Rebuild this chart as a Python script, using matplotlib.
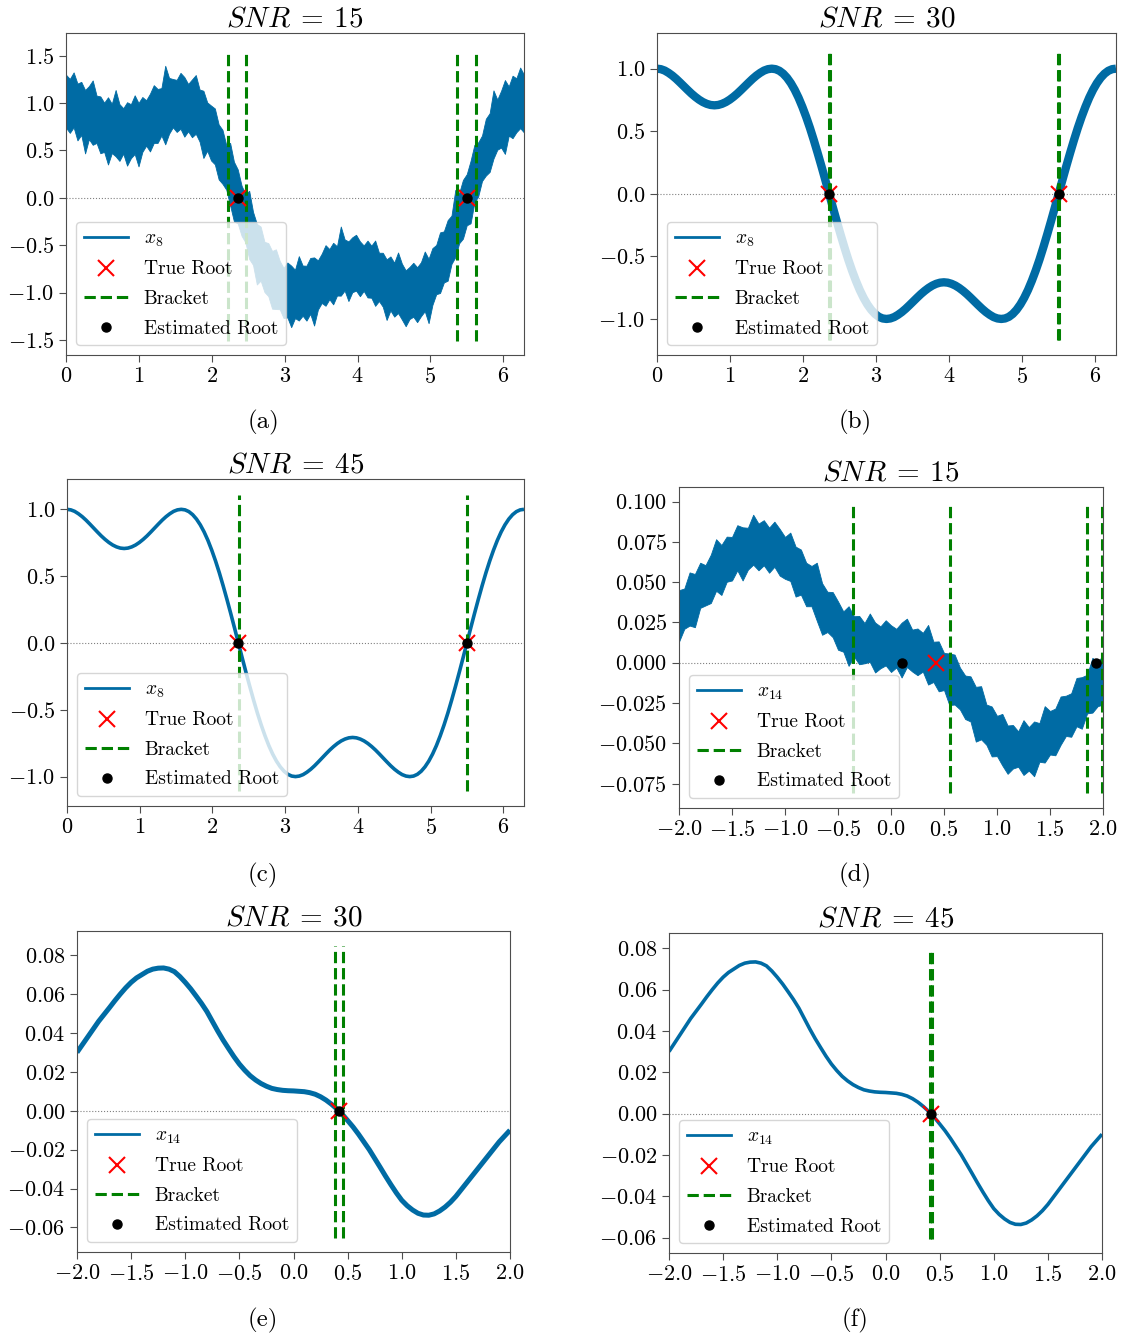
import numpy as np
import matplotlib
matplotlib.use('Agg')
import matplotlib.pyplot as plt
from matplotlib.lines import Line2D

plt.rcParams['font.family'] = 'serif'
plt.rcParams['font.serif'] = ['cmr10']
plt.rcParams['mathtext.fontset'] = 'cm'
plt.rcParams['axes.formatter.use_mathtext'] = True

# x8 read every 3 degrees on [0, 2pi]
x8_grid = np.linspace(0, 2 * np.pi, 121)
x8 = [1.0, .996, .985, .967, .945, .919, .890, .860, .830, .801, .775, .752, .733, .719,
      .710, .707, .710, .719, .733, .752, .775, .801, .830, .860, .890, .919, .945, .967,
      .985, .996, 1.0, .996, .983, .960, .927, .884, .831, .768, .695, .614, .525, .428,
      .326, .220, .111, 0.0, -.111, -.220, -.326, -.428, -.525, -.614, -.695, -.768,
      -.831, -.884, -.927, -.960, -.983, -.996, -1.0,
      -.996, -.985, -.967, -.945, -.919, -.890, -.860, -.830, -.801, -.775, -.752, -.733,
      -.719, -.710, -.707, -.710, -.719, -.733, -.752, -.775, -.801, -.830, -.860, -.890,
      -.919, -.945, -.967, -.985, -.996, -1.0, -.996, -.983, -.960, -.927, -.884, -.831,
      -.768, -.695, -.614, -.525, -.428, -.326, -.220, -.111, 0.0, .111, .220, .326, .428,
      .525, .614, .695, .768, .831, .884, .927, .960, .983, .996, 1.0]
# noise envelope at SNR = 15 (distance above / below the curve)
x8_up = [.30, .26, .34, .24, .28, .22, .29, .38, .25, .27, .23, .31, .26, .42, .28, .24, .30, .27, .35, .25,
         .29, .23, .27, .33, .26, .24, .45, .30, .27, .25, .32, .28, .22, .29, .37, .26, .30, .24, .28, .33,
         .25, .29, .23, .36, .27, .30, .24, .26, .40, .28, .25, .31, .23, .29, .27, .34, .26, .22, .30, .28,
         .24, .38, .27, .25, .31, .29, .23, .27, .33, .26, .30, .24, .43, .28, .25, .29, .32, .26, .23, .30,
         .27, .35, .25, .28, .24, .30, .26, .39, .29, .23, .27, .31, .25, .28, .36, .24, .30, .27, .33, .26,
         .29, .24, .41, .27, .30, .25, .28, .34, .26, .23, .31, .28, .44, .27, .30, .36, .25, .33, .28, .38, .30]
x8_dn = [.26, .31, .24, .36, .28, .45, .27, .30, .25, .33, .29, .40, .26, .28, .32, .24, .37, .30, .27, .42,
         .29, .25, .34, .28, .31, .26, .38, .29, .24, .30, .27, .35, .28, .32, .25, .29, .41, .27, .30, .26,
         .33, .28, .24, .30, .36, .27, .29, .25, .32, .28, .39, .26, .30, .27, .34, .29, .25, .31, .28, .37,
         .27, .30, .26, .33, .28, .43, .29, .25, .31, .27, .35, .28, .30, .26, .38, .29, .27, .32, .25, .30,
         .28, .34, .26, .29, .40, .27, .31, .25, .30, .36, .28, .26, .33, .29, .27, .44, .30, .25, .31, .28,
         .35, .27, .30, .26, .32, .29, .38, .27, .31, .25, .29, .34, .28, .26, .30, .42, .27, .33, .29, .26, .31]

# x14 read every 0.05 on [-2, 2]
x14_grid = np.linspace(-2, 2, 81)
x14 = [.030, .034, .038, .042, .046, .0495, .053, .0566, .060, .0632, .066, .0683, .070, .0717,
       .0728, .0733, .0734, .0728, .0715, .069, .066, .0627, .059, .0552, .051, .046, .041, .0363,
       .032, .0278, .024, .0208, .018, .0158, .014, .0126, .0115, .0109, .0105, .0103, .0102,
       .0100, .0098, .0093, .0085, .0072, .0055, .0034, .001, -.0018, -.005, -.0083, -.012, -.016,
       -.020, -.0245, -.029, -.0336, -.038, -.0422, -.046, -.0488, -.051, -.0527, -.0536, -.0537,
       -.053, -.0515, -.0495, -.047, -.044, -.0405, -.037, -.0335, -.030, -.0265, -.023, -.0195,
       -.016, -.013, -.010]
x14_up = [.015, .012, .018, .013, .016, .011, .014, .020, .013, .015, .012, .017, .014, .012, .019, .013, .015, .011, .016, .014,
          .012, .018, .013, .015, .011, .014, .021, .013, .012, .016, .014, .011, .017, .013, .015, .012, .019, .014, .012, .016,
          .013, .011, .015, .018, .012, .014, .013, .020, .012, .015, .011, .014, .017, .013, .012, .016, .014, .019, .012, .015,
          .013, .017, .012, .014, .011, .018, .013, .015, .012, .020, .014, .012, .016, .013, .011, .017, .014, .012, .019, .013, .015]
x14_dn = [.017, .013, .015, .020, .012, .014, .016, .012, .018, .013, .015, .011, .019, .014, .012, .016, .013, .017, .012, .015,
          .014, .012, .018, .013, .016, .011, .015, .019, .013, .012, .016, .014, .020, .012, .015, .013, .011, .017, .014, .012,
          .016, .013, .019, .012, .014, .015, .011, .017, .013, .016, .012, .018, .014, .013, .015, .012, .020, .014, .013, .016,
          .012, .015, .018, .013, .011, .016, .014, .019, .012, .015, .013, .017, .014, .012, .016, .013, .018, .012, .015, .014, .016]

true_roots8 = [2.356, 5.498]
true_roots14 = [0.42]
est_roots = {'a': [2.356, 5.498], 'b': [2.356, 5.498], 'c': [2.356, 5.498],
             'd': [0.10, 1.93], 'e': [0.422], 'f': [0.42]}
brackets = {'a': [2.22, 2.47, 5.36, 5.63], 'b': [2.355, 2.37, 5.49, 5.505],
            'c': [2.36, 5.494], 'd': [-0.356, 0.561, 1.849, 1.994],
            'e': [0.387, 0.454], 'f': [0.41, 0.425]}
bracket_span = {'a': (-1.51, 1.56), 'b': (-1.17, 1.16), 'c': (-1.11, 1.11),
                'd': (-0.081, 0.0999), 'e': (-0.0652, 0.0845), 'f': (-0.0606, 0.080)}
snr = {'a': 15, 'b': 30, 'c': 45, 'd': 15, 'e': 30, 'f': 45}

BLUE = '#006BA4'
W, H = 1122, 1339
fig = plt.figure(figsize=(W / 100, H / 100), dpi=100)

# panel boxes in pixels: left, right, top, bottom
boxes = {'a': (66, 524, 33, 355), 'b': (657, 1116, 33, 355),
         'c': (67, 524, 479, 806), 'd': (679, 1103, 487, 808),
         'e': (77, 510, 931, 1252), 'f': (669, 1102, 933, 1253)}
# centre of the (a)...(f) captions in pixels
captions = {'a': (263, 422), 'b': (855, 422), 'c': (263, 875),
            'd': (855, 875), 'e': (263, 1320), 'f': (855, 1320)}
ylims = {'a': (-1.66, 1.741), 'b': (-1.288, 1.285), 'c': (-1.22, 1.227),
         'd': (-0.0902, 0.109), 'e': (-0.0726, 0.0924), 'f': (-0.0675, 0.0874)}
yticks = {'a': np.arange(-1.5, 1.51, 0.5), 'b': np.arange(-1, 1.01, 0.5),
          'c': np.arange(-1, 1.01, 0.5), 'd': np.arange(-0.075, 0.1001, 0.025),
          'e': np.arange(-0.06, 0.0801, 0.02), 'f': np.arange(-0.06, 0.0801, 0.02)}


def make_axes(k):
    l, r, t, b = boxes[k]
    ax = fig.add_axes([l / W, 1 - b / H, (r - l) / W, (b - t) / H])
    for s in ax.spines.values():
        s.set_color('0.3')
    ax.tick_params(labelsize=16, length=5, width=0.8, color='0.3')
    ax.set_title(r'$SNR\:=\:%d$' % snr[k], fontsize=21, pad=4)
    cx, cy = captions[k]
    fig.text(cx / W, 1 - cy / H, '(%s)' % k, ha='center', va='center', fontsize=18)
    ax.axhline(0, color='gray', ls=':', lw=0.8, zorder=1)
    return ax


def finish(ax, k, true_roots, name):
    ax.vlines(brackets[k], bracket_span[k][0], bracket_span[k][1], colors='g',
              linestyles='--', lw=2.2, zorder=3)
    ax.plot(true_roots, [0] * len(true_roots), 'x', color='red', ms=11, mew=1.5, zorder=4)
    ax.plot(est_roots[k], [0] * len(est_roots[k]), 'o', color='black', ms=6.5, zorder=5)
    ax.set_ylim(*ylims[k])
    ax.set_yticks(yticks[k])
    handles = [Line2D([], [], color=BLUE, lw=2),
               Line2D([], [], ls='none', marker='x', color='red', ms=11, mew=1.5),
               Line2D([], [], color='g', ls='--', lw=2.2),
               Line2D([], [], ls='none', marker='o', color='black', ms=6.5)]
    ax.legend(handles, [name, 'True Root', 'Bracket', 'Estimated Root'],
              loc='lower left', fontsize=14, labelspacing=0.6, handlelength=2.3)


# (a) x8, SNR 15
ax = make_axes('a')
ax.fill_between(x8_grid, np.array(x8) - np.array(x8_dn), np.array(x8) + np.array(x8_up),
                color=BLUE, lw=0.6, zorder=2)
ax.set_xlim(0, 2 * np.pi)
ax.set_xticks(range(7))
finish(ax, 'a', true_roots8, '$x_8$')

# (b) x8, SNR 30
ax = make_axes('b')
ax.plot(x8_grid, x8, color=BLUE, lw=6, solid_capstyle='butt', zorder=2)
ax.set_xlim(0, 2 * np.pi)
ax.set_xticks(range(7))
finish(ax, 'b', true_roots8, '$x_8$')

# (c) x8, SNR 45
ax = make_axes('c')
ax.plot(x8_grid, x8, color=BLUE, lw=2.6, solid_capstyle='butt', zorder=2)
ax.set_xlim(0, 2 * np.pi)
ax.set_xticks(range(7))
finish(ax, 'c', true_roots8, '$x_8$')

# (d) x14, SNR 15
ax = make_axes('d')
ax.fill_between(x14_grid, np.array(x14) - np.array(x14_dn), np.array(x14) + np.array(x14_up),
                color=BLUE, lw=0.6, zorder=2)
ax.set_xlim(-2, 2)
ax.set_xticks(np.arange(-2, 2.01, 0.5))
finish(ax, 'd', true_roots14, '$x_{14}$')

# (e) x14, SNR 30
ax = make_axes('e')
ax.plot(x14_grid, x14, color=BLUE, lw=3.6, solid_capstyle='butt', zorder=2)
ax.set_xlim(-2, 2)
ax.set_xticks(np.arange(-2, 2.01, 0.5))
finish(ax, 'e', true_roots14, '$x_{14}$')

# (f) x14, SNR 45
ax = make_axes('f')
ax.plot(x14_grid, x14, color=BLUE, lw=2.6, solid_capstyle='butt', zorder=2)
ax.set_xlim(-2, 2)
ax.set_xticks(np.arange(-2, 2.01, 0.5))
finish(ax, 'f', true_roots14, '$x_{14}$')

fig.savefig('out.png', dpi=100)
